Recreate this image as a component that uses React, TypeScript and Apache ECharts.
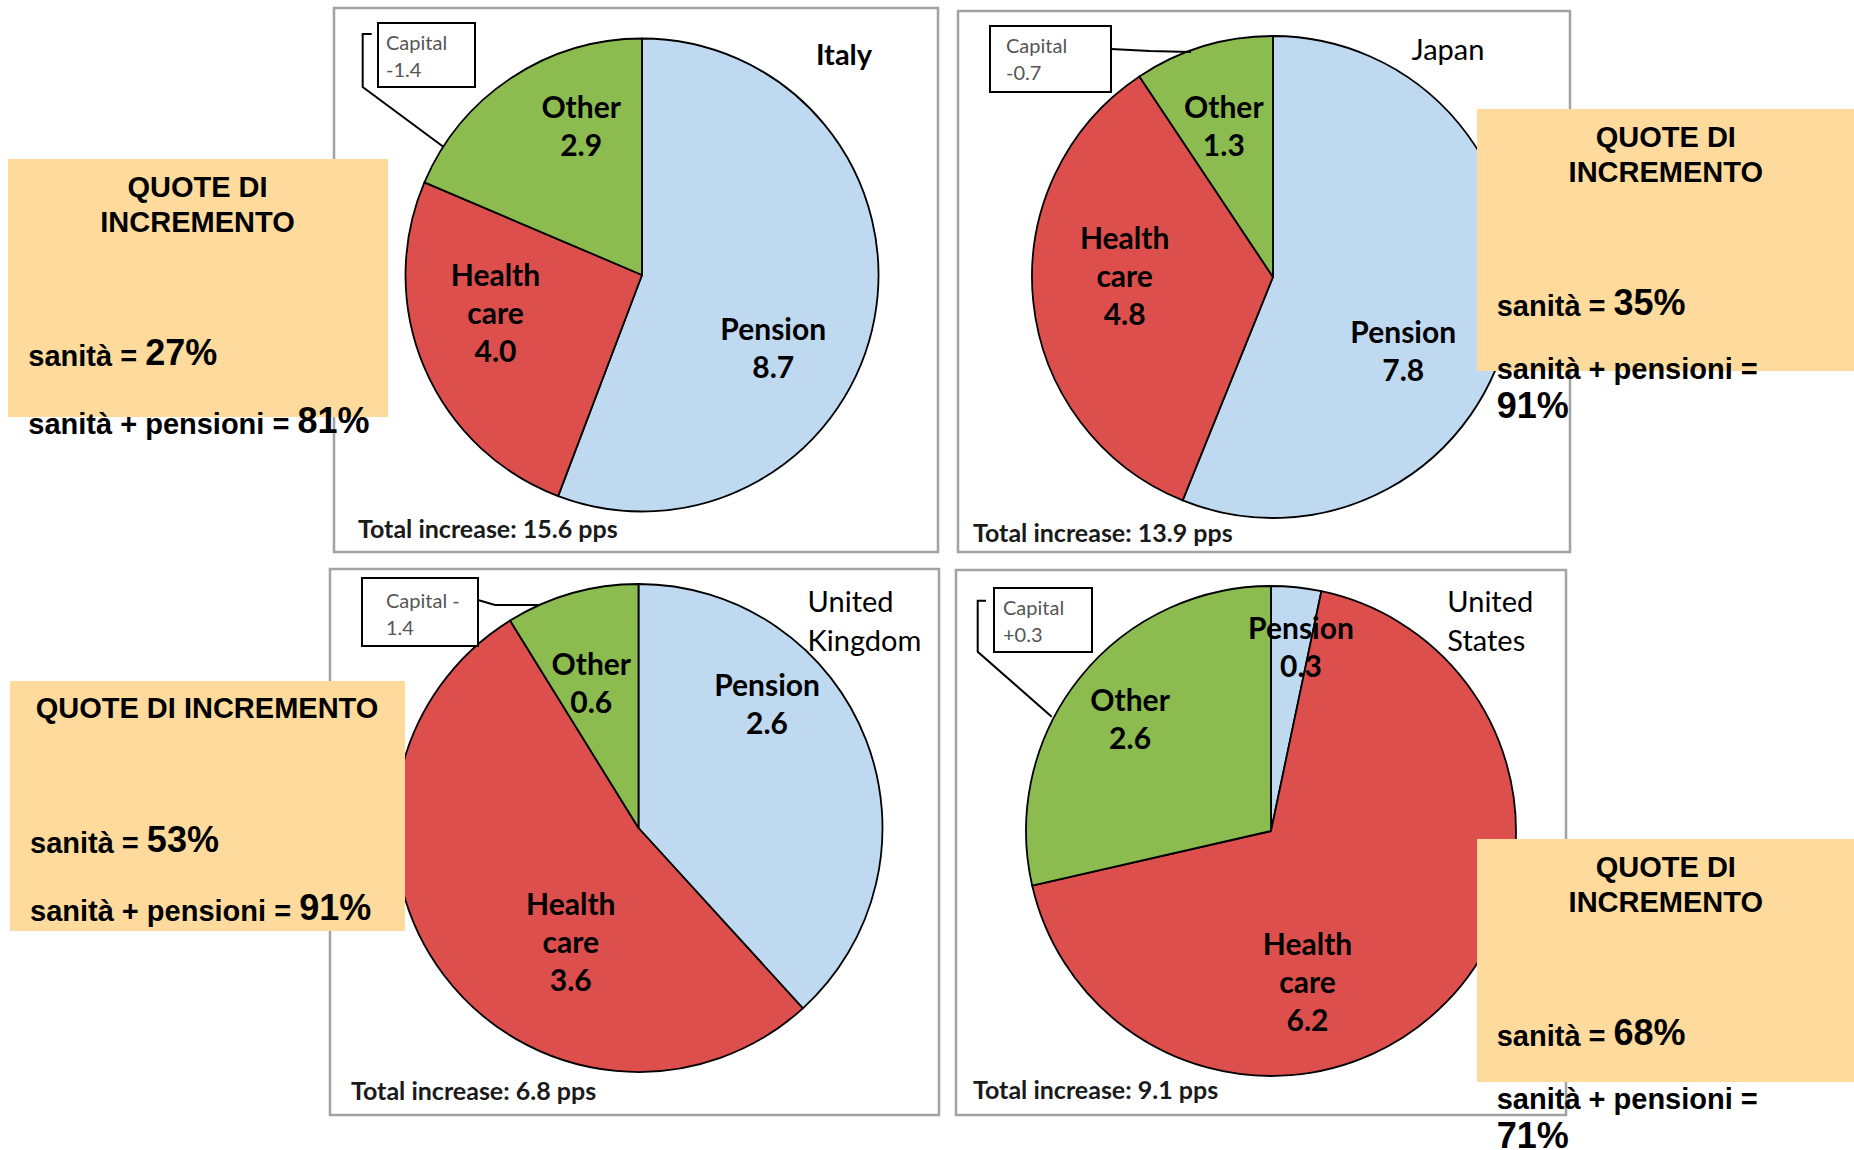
import React, { useEffect, useRef } from 'react';
import * as echarts from 'echarts';

// Slices of each pie (increase in spending, percentage points of GDP)
const sliceNames = ['Pension', 'Health care', 'Other'];
const italyValues = [8.7, 4.0, 2.9];
const japanValues = [7.8, 4.8, 1.3];
const ukValues = [2.6, 3.6, 0.6];
const usValues = [0.3, 6.2, 2.6];

// Country titles and capital call-outs
const countryTitles = ['Italy', 'Japan', 'United\nKingdom', 'United\nStates'];
const capitalLabels = ['Capital\n-1.4', 'Capital\n-0.7', 'Capital -\n1.4', 'Capital\n+0.3'];

// Shares shown in the note boxes (%)
const healthShare = [27, 35, 53, 68];
const healthPensionShare = [81, 91, 91, 71];

const sliceColors = ['#BFD9F1', '#DD4F4D', '#8CBB4F'];
const noteFill = '#FEDB9C';
const calibriLike = 'Lato, "Open Sans", sans-serif';
const arialLike = '"Liberation Sans", Arial, sans-serif';

type Panel = {
  values: number[];
  frame: [number, number, number, number];
  center: [number, number];
  radius: number;
  title: { x: number; y: number; align: string; bold: boolean };
  total: [number, number];
  capBox: [number, number, number, number];
  capText: [number, number];
  leader: number[][];
  labelOffsets: number[][];
};

const panels: Panel[] = [
  {
    values: italyValues,
    frame: [334, 8, 604, 544],
    center: [642, 275],
    radius: 236.5,
    title: { x: 844, y: 53, align: 'center', bold: true },
    total: [358, 528],
    capBox: [378, 23, 97, 64],
    capText: [386, 55],
    leader: [[371.7, 34], [362.7, 34], [362.7, 87], [443.3, 146.7]],
    labelOffsets: [[12, 50], [-35, -11], [6, -49]],
  },
  {
    values: japanValues,
    frame: [958, 11, 612, 541],
    center: [1273, 277],
    radius: 241,
    title: { x: 1448, y: 48.5, align: 'center', bold: false },
    total: [973, 532],
    capBox: [990, 26, 121, 66],
    capText: [1006, 58],
    leader: [[1111, 49], [1150, 51], [1191, 52]],
    labelOffsets: [[9, 49.6], [-25.5, -15], [-13.4, -34]],
  },
  {
    values: ukValues,
    frame: [330, 569, 609, 546],
    center: [638.5, 828],
    radius: 244,
    title: { x: 807.6, y: 620, align: 'left', bold: false },
    total: [351, 1090],
    capBox: [362, 578, 116, 68],
    capText: [386, 613],
    leader: [[478, 600], [495, 605], [540, 605]],
    labelOffsets: [[12, -80], [32, 37.4], [-13, -25.5]],
  },
  {
    values: usValues,
    frame: [956, 570, 610, 545],
    center: [1271, 831],
    radius: 245,
    title: { x: 1447.3, y: 620, align: 'left', bold: false },
    total: [973, 1089],
    capBox: [994, 588, 98, 64],
    capText: [1003, 620],
    leader: [[986, 600.7], [977.7, 600.7], [977.7, 651.7], [1051.7, 716.7]],
    labelOffsets: [[17, -60], [-53, 61.7], [-42.8, -35.1]],
  },
];

// Note boxes: [x, y, w, h], heading layout and text anchors
const notes = [
  { box: [8, 159, 380, 258], heading: 'QUOTE DI\nINCREMENTO', headX: 197.5, headY: 204, textX: 28.3, line1: 363.3, line2: 431.7, wrap: false },
  { box: [1477, 109, 377, 262], heading: 'QUOTE DI\nINCREMENTO', headX: 1665.8, headY: 154, textX: 1496.7, line1: 313.3, line2: 376.7, wrap: true },
  { box: [10, 681, 395, 250], heading: 'QUOTE DI INCREMENTO', headX: 207, headY: 708, textX: 30, line1: 850, line2: 918.3, wrap: false },
  { box: [1477, 839, 377, 243], heading: 'QUOTE DI\nINCREMENTO', headX: 1665.8, headY: 884, textX: 1496.7, line1: 1043.3, line2: 1106.7, wrap: true },
];

const noteRich = {
  a: { fontFamily: arialLike, fontWeight: 'bold', fontSize: 29, lineHeight: 40, verticalAlign: 'bottom', fill: '#000' },
  b: { fontFamily: arialLike, fontWeight: 'bold', fontSize: 36, lineHeight: 40, verticalAlign: 'bottom', fill: '#000' },
};

function buildGraphics() {
  const els: any[] = [];
  panels.forEach((p, i) => {
    const [fx, fy, fw, fh] = p.frame;
    els.push({ type: 'rect', z: 0, silent: true, shape: { x: fx, y: fy, width: fw, height: fh }, style: { fill: '#fff', stroke: '#A3A3A3', lineWidth: 2.5 } });
    els.push({
      type: 'text', z: 5, silent: true, x: p.title.x, y: p.title.y,
      style: { text: countryTitles[i], fontFamily: calibriLike, fontWeight: p.title.bold ? 'bold' : 'normal', fontSize: 29, lineHeight: 39, fill: '#000', align: p.title.align, verticalAlign: 'middle' },
    });
    const total = p.values.reduce((s, v) => s + v, 0);
    els.push({
      type: 'text', z: 5, silent: true, x: p.total[0], y: p.total[1],
      style: { text: `Total increase: ${total.toFixed(1)} pps`, fontFamily: calibriLike, fontWeight: 'bold', fontSize: 25, fill: '#1a1a1a', align: 'left', verticalAlign: 'middle' },
    });
    const [bx, by, bw, bh] = p.capBox;
    els.push({ type: 'polyline', z: 5, silent: true, shape: { points: p.leader }, style: { fill: 'none', stroke: '#000', lineWidth: 2 } });
    els.push({ type: 'rect', z: 6, silent: true, shape: { x: bx, y: by, width: bw, height: bh }, style: { fill: '#fff', stroke: '#000', lineWidth: 2 } });
    els.push({
      type: 'text', z: 7, silent: true, x: p.capText[0], y: p.capText[1],
      style: { text: capitalLabels[i], fontFamily: calibriLike, fontSize: 20, lineHeight: 27, fill: '#555', align: 'left', verticalAlign: 'middle' },
    });
  });

  notes.forEach((n, i) => {
    const [x, y, w, h] = n.box;
    els.push({ type: 'rect', z: 20, silent: true, shape: { x, y, width: w, height: h }, style: { fill: noteFill } });
    els.push({
      type: 'text', z: 21, silent: true, x: n.headX, y: n.headY,
      style: { text: n.heading, fontFamily: arialLike, fontWeight: 'bold', fontSize: 29, lineHeight: 35, fill: '#000', align: 'center', verticalAlign: 'middle' },
    });
    els.push({
      type: 'text', z: 21, silent: true, x: n.textX, y: n.line1 + 7,
      style: { text: `{a|sanità = }{b|${healthShare[i]}%}`, rich: noteRich, align: 'left', verticalAlign: 'bottom' },
    });
    const second = n.wrap
      ? `{a|sanità + pensioni =}\n{b|${healthPensionShare[i]}%}`
      : `{a|sanità + pensioni = }{b|${healthPensionShare[i]}%}`;
    els.push({
      type: 'text', z: 21, silent: true, x: n.textX, y: n.line2 - 33,
      style: { text: second, rich: noteRich, align: 'left', verticalAlign: 'top' },
    });
  });
  return els;
}

export default function App() {
  const ref = useRef<HTMLDivElement>(null);

  useEffect(() => {
    if (!ref.current) return;
    const chart = echarts.init(ref.current, undefined, { renderer: 'svg' });
    const option = {
      animation: false,
      backgroundColor: '#ffffff',
      series: panels.map((p) => ({
        type: 'pie',
        center: p.center,
        radius: p.radius,
        startAngle: 90,
        clockwise: true,
        silent: true,
        z: 3,
        emphasis: { disabled: true },
        labelLine: { show: false },
        itemStyle: { borderColor: '#000', borderWidth: 1.8 },
        label: {
          show: true,
          position: 'inside',
          color: '#000',
          fontFamily: calibriLike,
          fontWeight: 'bold',
          fontSize: 30,
          lineHeight: 38,
          formatter: (d: any) => `${String(d.name).replace(' ', '\n')}\n${Number(d.value).toFixed(1)}`,
        },
        data: p.values.map((v, k) => ({
          name: sliceNames[k],
          value: v,
          itemStyle: { color: sliceColors[k] },
          label: { offset: p.labelOffsets[k] },
        })),
      })),
      graphic: { elements: buildGraphics() },
    };
    chart.setOption(option as any);
    return () => chart.dispose();
  }, []);

  return (
    <div
      ref={ref}
      style={{ position: 'absolute', left: 0, top: 0, width: 1854, height: 1150, background: '#fff' }}
    />
  );
}
